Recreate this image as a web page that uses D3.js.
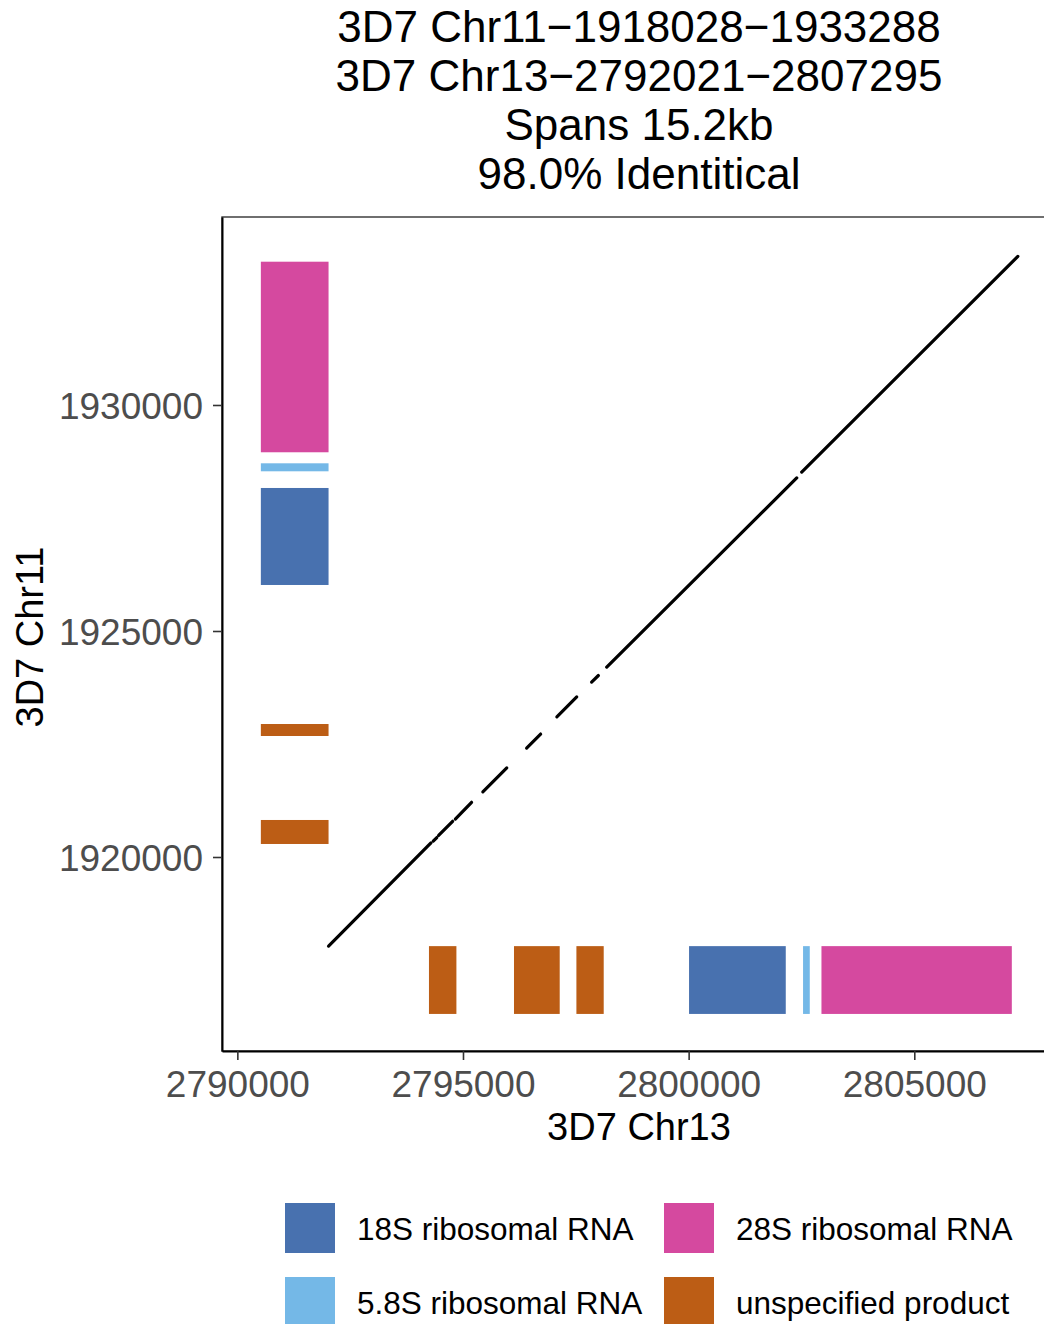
<!DOCTYPE html>
<html>
<head>
    <meta charset="utf-8">
    <title>3D7 Chr11 vs Chr13 dot plot</title>
    <style>
        body {
            margin: 0;
            background: #ffffff;
        }

        text {
            font-family: "Liberation Sans", Arial, Helvetica, sans-serif;
        }
    </style>
    <script src="https://d3js.org/d3.v7.min.js"></script>
</head>
<body>

<script type="application/javascript">
  // alignment segments: chr13 start, chr11 start, chr13 end, chr11 end
  var segments = [
    [2792021, 1918028, 2794290, 1920310],
    [2794340, 1920350, 2794420, 1920430],
    [2794460, 1920480, 2794770, 1920790],
    [2794830, 1920840, 2795190, 1921210],
    [2795440, 1921440, 2795970, 1921970],
    [2796410, 1922410, 2796720, 1922720],
    [2797080, 1923100, 2797520, 1923540],
    [2797850, 1923870, 2798000, 1924015],
    [2798185, 1924200, 2802395, 1928385],
    [2802505, 1928515, 2807295, 1933288]
  ];

  // gene features on each chromosome: start, end, product
  var chr11Features = [
    [1928954, 1933170, "28S ribosomal RNA"],
    [1928533, 1928710, "5.8S ribosomal RNA"],
    [1926018, 1928164, "18S ribosomal RNA"],
    [1922677, 1922942, "unspecified product"],
    [1920288, 1920819, "unspecified product"]
  ];
  var chr13Features = [
    [2794246, 2794854, "unspecified product"],
    [2796130, 2797143, "unspecified product"],
    [2797513, 2798118, "unspecified product"],
    [2800009, 2802152, "18S ribosomal RNA"],
    [2802535, 2802684, "5.8S ribosomal RNA"],
    [2802943, 2807161, "28S ribosomal RNA"]
  ];

  var products = ["18S ribosomal RNA", "5.8S ribosomal RNA", "28S ribosomal RNA", "unspecified product"];
  var productColors = ["#4871af", "#74b8e7", "#d5499f", "#bc5d15"];

  var xTicks = [2790000, 2795000, 2800000, 2805000];
  var yTicks = [1920000, 1925000, 1930000];

  var titleLines = [
    "3D7 Chr11\u22121918028\u22121933288",
    "3D7 Chr13\u22122792021\u22122807295",
    "Spans 15.2kb",
    "98.0% Identitical"
  ];
  var xLabel = "3D7 Chr13";
  var yLabel = "3D7 Chr11";

  // band where the feature boxes sit, just outside the aligned range
  var chr13Band = [2790521, 2792021];
  var chr11Band = [1916528, 1918028];

  var w = 1044;
  var h = 1324;
  var panel = {left: 222, right: 1056, top: 217, bottom: 1051};

  var svg = d3.select("body")
              .append("svg")
              .attr("width", w)
              .attr("height", h);

  var x = d3.scaleLinear()
            .domain([2789660, 2808140])
            .range([panel.left, panel.right]);
  var y = d3.scaleLinear()
            .domain([1915708, 1934159])
            .range([panel.bottom, panel.top]);
  var color = d3.scaleOrdinal()
                .domain(products)
                .range(productColors);

  // title
  svg.append("g")
     .selectAll("text")
     .data(titleLines)
     .enter()
     .append("text")
     .attr("x", (panel.left + panel.right) / 2)
     .attr("y", function (d, i) {
       return 42 + i * 49;
     })
     .attr("text-anchor", "middle")
     .attr("font-size", 44)
     .attr("fill", "#000")
     .text(function (d) {
       return d;
     });

  // features along the y axis (chr11)
  svg.append("g")
     .selectAll("rect")
     .data(chr11Features)
     .enter()
     .append("rect")
     .attr("x", x(chr13Band[0]))
     .attr("width", x(chr13Band[1]) - x(chr13Band[0]))
     .attr("y", function (d) {
       return y(d[1]);
     })
     .attr("height", function (d) {
       return y(d[0]) - y(d[1]);
     })
     .attr("fill", function (d) {
       return color(d[2]);
     });

  // features along the x axis (chr13)
  svg.append("g")
     .selectAll("rect")
     .data(chr13Features)
     .enter()
     .append("rect")
     .attr("x", function (d) {
       return x(d[0]);
     })
     .attr("width", function (d) {
       return x(d[1]) - x(d[0]);
     })
     .attr("y", y(chr11Band[1]))
     .attr("height", y(chr11Band[0]) - y(chr11Band[1]))
     .attr("fill", function (d) {
       return color(d[2]);
     });

  // alignment
  svg.append("g")
     .selectAll("line")
     .data(segments)
     .enter()
     .append("line")
     .attr("x1", function (d) { return x(d[0]); })
     .attr("y1", function (d) { return y(d[1]); })
     .attr("x2", function (d) { return x(d[2]); })
     .attr("y2", function (d) { return y(d[3]); })
     .attr("stroke", "#000")
     .attr("stroke-width", 3.2)
     .attr("stroke-linecap", "round");

  // panel border (right side falls outside the picture)
  svg.append("rect")
     .attr("x", panel.left)
     .attr("y", panel.top)
     .attr("width", panel.right - panel.left)
     .attr("height", panel.bottom - panel.top)
     .attr("fill", "none")
     .attr("stroke", "#333")
     .attr("stroke-width", 1.4);

  // axes
  var xAxis = svg.append("g")
                 .attr("transform", "translate(0," + panel.bottom + ")")
                 .call(d3.axisBottom(x).tickValues(xTicks).tickFormat(d3.format("d")).tickSizeInner(9).tickSizeOuter(0).tickPadding(8));
  var yAxis = svg.append("g")
                 .attr("transform", "translate(" + panel.left + ",0)")
                 .call(d3.axisLeft(y).tickValues(yTicks).tickFormat(d3.format("d")).tickSizeInner(9).tickSizeOuter(0).tickPadding(10));

  [xAxis, yAxis].forEach(function (a) {
    a.select(".domain").attr("stroke", "#000").attr("stroke-width", 2);
    a.selectAll(".tick line").attr("stroke", "#333").attr("stroke-width", 1.6);
    a.selectAll(".tick text")
     .attr("fill", "#4d4d4d")
     .attr("font-size", 37)
     .attr("font-family", "'Liberation Sans', Arial, Helvetica, sans-serif");
  });
  xAxis.selectAll(".tick text").attr("dy", null).attr("y", 46);
  yAxis.selectAll(".tick text").attr("dy", "0.36em");

  svg.append("text")
     .attr("x", (panel.left + panel.right) / 2)
     .attr("y", 1140)
     .attr("text-anchor", "middle")
     .attr("font-size", 38)
     .attr("fill", "#000")
     .text(xLabel);

  svg.append("text")
     .attr("transform", "translate(43," + 637 + ") rotate(-90)")
     .attr("text-anchor", "middle")
     .attr("font-size", 38)
     .attr("fill", "#000")
     .text(yLabel);

  // legend, two columns filled top to bottom
  var legend = svg.append("g")
                  .selectAll("g")
                  .data(products)
                  .enter()
                  .append("g")
                  .attr("transform", function (d, i) {
                    var col = Math.floor(i / 2);
                    var row = i % 2;
                    return "translate(" + (285 + col * 379) + "," + (1203 + row * 74) + ")";
                  });
  legend.append("rect")
        .attr("width", 50)
        .attr("height", 50)
        .attr("fill", function (d) {
          return color(d);
        });
  legend.append("text")
        .attr("x", 72)
        .attr("y", 37)
        .attr("font-size", 31.5)
        .attr("fill", "#000")
        .text(function (d) {
          return d;
        });
</script>
</body>
</html>
